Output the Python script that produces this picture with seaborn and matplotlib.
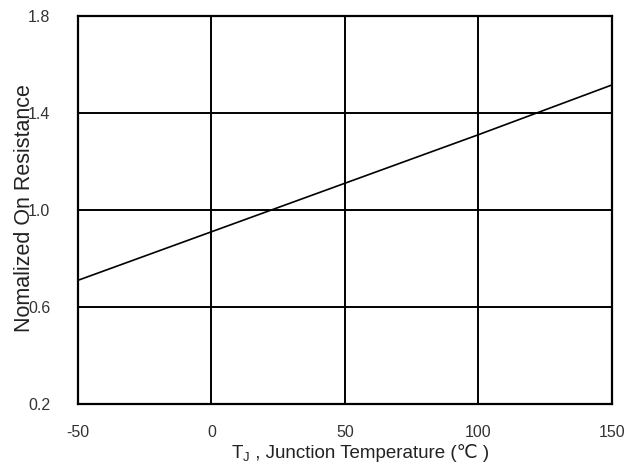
import matplotlib
matplotlib.use("Agg")
import pandas as pd
import seaborn as sns
import matplotlib.pyplot as plt
from matplotlib.offsetbox import TextArea, HPacker, AnchoredOffsetbox

temperature = [-50, 0, 25, 50, 100, 150]
resistance = [0.71, 0.91, 1.01, 1.11, 1.31, 1.515]

x_ticks = [-50, 0, 50, 100, 150]
y_ticks = [0.2, 0.6, 1.0, 1.4, 1.8]
y_tick_labels = ["0.2", "0.6", "1.0", "1.4", "1.8"]


def main():
    sns.set_theme(style="white")
    plt.rcParams["font.family"] = ["Liberation Sans", "DejaVu Sans"]
    plt.rcParams["mathtext.fontset"] = "custom"
    plt.rcParams["mathtext.rm"] = "Liberation Sans"
    plt.rcParams["mathtext.it"] = "Liberation Sans"
    plt.rcParams["axes.unicode_minus"] = False

    df = pd.DataFrame({"temp": temperature, "res": resistance})

    fig = plt.figure(figsize=(6.42, 4.66), dpi=100)
    ax = fig.add_axes([0.1215, 0.133, 0.8315, 0.833])

    sns.lineplot(data=df, x="temp", y="res", ax=ax, color="black", linewidth=1.2)

    ax.set_xlim(-50, 150)
    ax.set_ylim(0.2, 1.8)
    ax.set_xticks(x_ticks)
    ax.set_yticks(y_ticks)
    ax.set_yticklabels(y_tick_labels)
    ax.grid(True, color="black", linewidth=1.4)
    for s in ax.spines.values():
        s.set_color("black")
        s.set_linewidth(1.6)

    ax.tick_params(axis="both", length=0, labelsize=11.5, labelcolor="#333333")
    ax.tick_params(axis="x", pad=15)
    ax.tick_params(axis="y", pad=20)
    ax.set_xlabel("")

    # x label: T with subscript J, then the rest in plain text so the ℃ glyph is found
    txt = dict(fontsize=13.5, color="#222222")
    part1 = TextArea(r"T$_{\rm J}$", textprops=txt)
    part2 = TextArea(" , Junction Temperature (℃ )", textprops=txt)
    box = HPacker(children=[part1, part2], align="baseline", pad=0, sep=0)
    anchored = AnchoredOffsetbox(loc="center", child=box, frameon=False, pad=0, borderpad=0,
                                 bbox_to_anchor=(0.528, -0.126), bbox_transform=ax.transAxes)
    ax.add_artist(anchored)

    # the y label sits on top of the tick labels, as in the original
    ax.set_ylabel("Nomalized On Resistance", fontsize=15.5, color="#222222")
    ax.yaxis.set_label_coords(-0.080, 0.505)

    fig.savefig("out.png", dpi=100)


if __name__ == "__main__":
    main()
